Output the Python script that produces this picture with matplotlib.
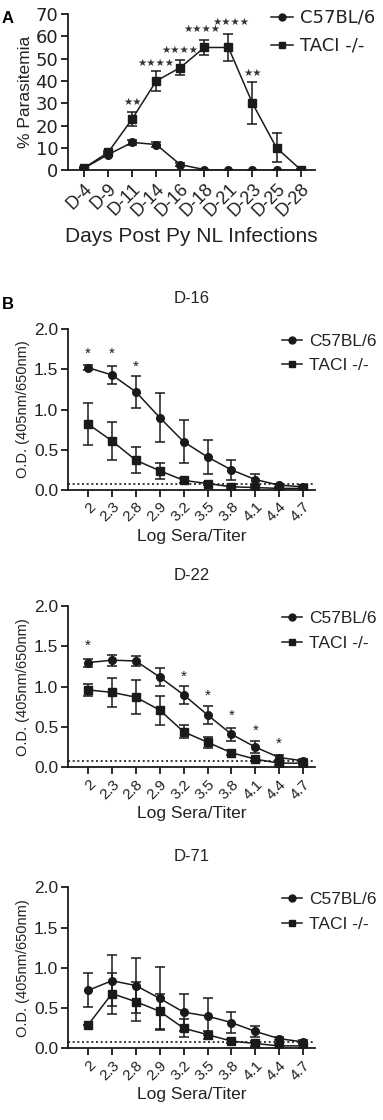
import numpy as np
import matplotlib.pyplot as plt
from matplotlib.lines import Line2D

plt.rcParams['font.family'] = ['Liberation Sans', 'DejaVu Sans']

# ---- panel A data ----
days = ["D-4", "D-9", "D-11", "D-14", "D-16", "D-18", "D-21", "D-23", "D-25", "D-28"]
wt_par = [1, 7, 12.5, 11.5, 2.5, 0.3, 0, 0, 0, 0]
wt_par_err = [0.3, 0.8, 1.0, 1.0, 0.6, 0, 0, 0, 0, 0]
taci_par = [1, 8, 23, 40, 46, 55, 55, 30, 10, 0.3]
taci_par_err = [0.3, 0.8, 3, 4.5, 3.5, 3.5, 6, 9.5, 6.5, 0.2]
stars_a = ["", "", "**", "****", "****", "****", "****", "**", "", ""]
stars_a_y = [0, 0, 28.5, 46, 51.5, 61, 64, 41.5, 0, 0]
stars_a_dx = [0, 0, 0, 0, 0, -0.12, 0.12, 0, 0, 0]

# ---- panel B data ----
titers = ["2", "2.3", "2.8", "2.9", "3.2", "3.5", "3.8", "4.1", "4.4", "4.7"]

d16_wt = [1.52, 1.43, 1.22, 0.90, 0.60, 0.41, 0.25, 0.13, 0.06, 0.04]
d16_wt_err = [0.03, 0.11, 0.20, 0.30, 0.27, 0.21, 0.12, 0.07, 0.02, 0.02]
d16_taci = [0.82, 0.61, 0.37, 0.24, 0.12, 0.08, 0.04, 0.03, 0.02, 0.02]
d16_taci_err = [0.26, 0.24, 0.16, 0.10, 0.03, 0.02, 0.01, 0.01, 0.01, 0.01]
d16_stars = ["*", "*", "*", "", "", "", "", "", "", ""]
d16_stars_y = [1.6, 1.6, 1.44, 0, 0, 0, 0, 0, 0, 0]

d22_wt = [1.30, 1.33, 1.32, 1.12, 0.90, 0.65, 0.41, 0.25, 0.12, 0.08]
d22_wt_err = [0.05, 0.07, 0.06, 0.11, 0.11, 0.11, 0.08, 0.07, 0.03, 0.02]
d22_taci = [0.96, 0.93, 0.87, 0.71, 0.44, 0.31, 0.18, 0.10, 0.05, 0.05]
d22_taci_err = [0.08, 0.18, 0.21, 0.18, 0.08, 0.07, 0.03, 0.02, 0.02, 0.02]
d22_stars = ["*", "", "", "", "*", "*", "*", "*", "*", ""]
d22_stars_y = [1.42, 0, 0, 0, 1.04, 0.8, 0.55, 0.37, 0.2, 0]

d71_wt = [0.72, 0.84, 0.78, 0.62, 0.45, 0.40, 0.32, 0.21, 0.12, 0.08]
d71_wt_err = [0.21, 0.32, 0.34, 0.39, 0.23, 0.23, 0.13, 0.07, 0.02, 0.02]
d71_taci = [0.29, 0.68, 0.58, 0.46, 0.25, 0.17, 0.09, 0.06, 0.03, 0.03]
d71_taci_err = [0.0, 0.25, 0.24, 0.22, 0.11, 0.05, 0.02, 0.03, 0.02, 0.02]

cutoff = 0.08

ink = '#1a1a1a'
txt = '#222222'
fig = plt.figure(figsize=(3.83, 11.2), dpi=100)


def style_axes(ax):
    for s in ['top', 'right']:
        ax.spines[s].set_visible(False)
    for s in ['left', 'bottom']:
        ax.spines[s].set_linewidth(1.3)
        ax.spines[s].set_color(ink)
    ax.tick_params(width=1.3, length=5, color=ink, labelcolor=txt, pad=2)


def draw_series(ax, x, y, err, marker, ms):
    ax.errorbar(x, y, yerr=err, color=ink, lw=1.1, marker=marker, ms=ms,
                capsize=3.5, capthick=1.1, elinewidth=1.1, zorder=3)


def add_legend(anchor, fontsize, family):
    handles = [Line2D([], [], color=ink, lw=1.1, marker='o', ms=5),
               Line2D([], [], color=ink, lw=1.1, marker='s', ms=5)]
    fig.legend(handles, ['C57BL/6', 'TACI -/-'], loc='upper left',
               bbox_to_anchor=anchor, frameon=False,
               prop={'size': fontsize, 'family': family},
               handlelength=1.2, handletextpad=0.4, labelspacing=0.55,
               borderaxespad=0, borderpad=0, labelcolor=txt)


# ---- panel A ----
ax = fig.add_axes([0.1775, 0.848, 0.645, 0.1395])
x = np.arange(len(days))
draw_series(ax, x, wt_par, wt_par_err, 'o', 5.5)
draw_series(ax, x, taci_par, taci_par_err, 's', 6)
for i, s in enumerate(stars_a):
    if s:
        ax.text(x[i] + stars_a_dx[i], stars_a_y[i], '\u2605' * len(s), ha='center',
                va='bottom', fontsize=7.5, color='#333333', family=['DejaVu Sans'])
ax.set_xlim(-0.67, 9.6)
ax.set_ylim(0, 70)
ax.set_yticks(range(0, 71, 10))
ax.set_xticks(x)
ax.set_xticklabels(days, rotation=45, ha='right', rotation_mode='anchor', fontsize=13)
ax.set_yticklabels([str(v) for v in range(0, 71, 10)], fontsize=13, family=['DejaVu Sans'])
ax.set_ylabel('% Parasitemia', fontsize=12.5, color=txt, labelpad=2)
ax.set_xlabel('Days Post Py NL Infections', fontsize=15, color=txt, labelpad=5)
style_axes(ax)
add_legend((0.708, 0.992), 13, ['DejaVu Sans'])
fig.text(0.005, 0.99, 'A', fontsize=12, fontweight='bold', va='top')

# ---- panel B ----
panels = [
    ('D-16', 0.5625, d16_wt, d16_wt_err, d16_taci, d16_taci_err, d16_stars, d16_stars_y),
    ('D-22', 0.315, d22_wt, d22_wt_err, d22_taci, d22_taci_err, d22_stars, d22_stars_y),
    ('D-71', 0.064, d71_wt, d71_wt_err, d71_taci, d71_taci_err, None, None),
]
xb = np.arange(len(titers))
for title, bottom, wt, wt_e, tc, tc_e, st, st_y in panels:
    ax = fig.add_axes([0.1775, bottom, 0.645, 0.1437])
    draw_series(ax, xb, wt, wt_e, 'o', 5.5)
    draw_series(ax, xb, tc, tc_e, 's', 5.5)
    ax.axhline(cutoff, color=ink, lw=1.2, ls=(0, (1.2, 1.6)), zorder=2)
    if st:
        for i, s in enumerate(st):
            if s:
                ax.text(xb[i], st_y[i], s, ha='center', va='bottom', fontsize=11,
                        color=ink)
    ax.set_xlim(-0.84, 9.5)
    ax.set_ylim(0, 2.0)
    ax.set_yticks([0, 0.5, 1.0, 1.5, 2.0])
    ax.set_yticklabels(['0.0', '0.5', '1.0', '1.5', '2.0'], fontsize=12.5)
    ax.set_xticks(xb)
    ax.set_xticklabels(titers, rotation=45, ha='right', rotation_mode='anchor', fontsize=11)
    ax.set_ylabel('O.D. (405nm/650nm)', fontsize=10.5, color=txt, labelpad=3)
    ax.set_xlabel('Log Sera/Titer', fontsize=12.5, color=txt, labelpad=3)
    ax.set_title(title, fontsize=12, color=txt, pad=19)
    style_axes(ax)
    top_frac = bottom + 0.1437
    add_legend((0.735, top_frac - 0.004), 12.5, ['Liberation Sans'])

fig.text(0.005, 0.728, 'B', fontsize=12, fontweight='bold', va='center')

fig.savefig('out.png', dpi=100)
